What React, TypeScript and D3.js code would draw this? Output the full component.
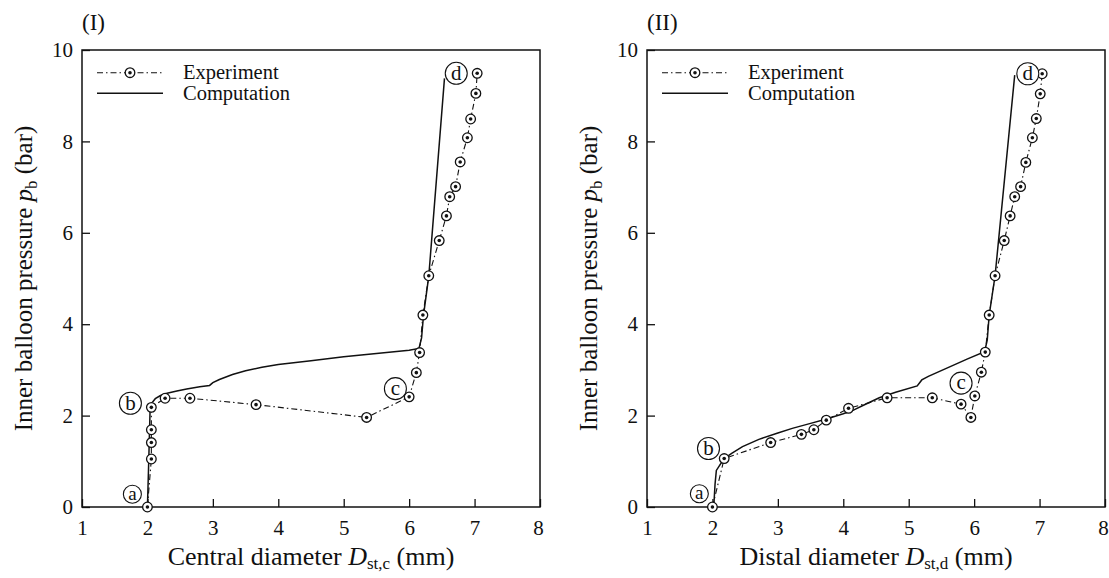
import React, { useRef, useEffect } from 'react';
import * as d3 from 'd3';

// tick values
const xTicks = [1, 2, 3, 4, 5, 6, 7, 8];
const yTicks = [0, 2, 4, 6, 8, 10];

// (I) central diameter, measured
const expCentral: [number, number][] = [
  [2.0, 0], [2.06, 1.05], [2.06, 1.41], [2.06, 1.69], [2.06, 2.18],
  [2.27, 2.38], [2.65, 2.38], [3.66, 2.24], [5.35, 1.96], [6.0, 2.41],
  [6.11, 2.94], [6.16, 3.38], [6.21, 4.2], [6.3, 5.06], [6.46, 5.83],
  [6.57, 6.37], [6.62, 6.79], [6.71, 7.01], [6.78, 7.55], [6.89, 8.08],
  [6.94, 8.49], [7.02, 9.05], [7.04, 9.49],
];
// (I) central diameter, computed
const compCentral: [number, number][] = [
  [2.0, 0], [2.02, 1.0], [2.04, 2.1], [2.07, 2.28], [2.12, 2.37], [2.2, 2.44],
  [2.3, 2.49], [2.45, 2.54], [2.6, 2.58], [2.8, 2.63], [2.95, 2.66],
  [3.0, 2.72], [3.1, 2.79], [3.3, 2.9], [3.5, 2.98], [3.75, 3.06],
  [4.0, 3.12], [4.5, 3.2], [5.0, 3.29], [5.5, 3.36], [6.0, 3.43],
  [6.15, 3.47], [6.19, 3.7], [6.22, 4.2], [6.3, 5.05], [6.54, 9.38],
];
// (II) distal diameter, measured
const expDistal: [number, number][] = [
  [2.0, 0], [2.18, 1.06], [2.89, 1.41], [3.36, 1.59], [3.55, 1.69],
  [3.74, 1.9], [4.08, 2.16], [4.67, 2.39], [5.36, 2.39], [5.8, 2.25],
  [5.95, 1.96], [6.01, 2.43], [6.11, 2.95], [6.17, 3.39], [6.23, 4.2],
  [6.32, 5.06], [6.46, 5.83], [6.55, 6.37], [6.62, 6.79], [6.71, 7.01],
  [6.79, 7.54], [6.89, 8.08], [6.95, 8.5], [7.01, 9.04], [7.04, 9.48],
];
// (II) distal diameter, computed
const compDistal: [number, number][] = [
  [2.02, 0], [2.04, 0.5], [2.06, 0.8], [2.11, 0.91], [2.18, 1.06], [2.3, 1.18],
  [2.46, 1.32], [2.71, 1.48], [3.0, 1.62], [3.22, 1.72], [3.5, 1.83],
  [3.73, 1.92], [4.0, 2.04], [4.14, 2.11], [4.3, 2.22], [4.55, 2.39],
  [4.8, 2.51], [5.13, 2.65], [5.2, 2.78], [5.3, 2.86], [5.6, 3.05],
  [5.9, 3.24], [6.16, 3.4], [6.2, 3.65], [6.23, 4.2], [6.32, 5.06], [6.62, 9.45],
];

// circled state markers a-d
const marksCentral = [
  { id: 'a', x: 1.77, y: 0.28 }, { id: 'b', x: 1.74, y: 2.27 },
  { id: 'c', x: 5.79, y: 2.59 }, { id: 'd', x: 6.72, y: 9.49 },
];
const marksDistal = [
  { id: 'a', x: 1.8, y: 0.29 }, { id: 'b', x: 1.94, y: 1.28 },
  { id: 'c', x: 5.8, y: 2.71 }, { id: 'd', x: 6.82, y: 9.48 },
];

const panels = [
  { tag: '(I)', left: 82, xName: 'Central diameter ', xSub: 'st,c', exp: expCentral, comp: compCentral, marks: marksCentral },
  { tag: '(II)', left: 647, xName: 'Distal diameter ', xSub: 'st,d', exp: expDistal, comp: compDistal, marks: marksDistal },
];

const W = 458;
const H = 457;
const TOP = 50;
const FONT = '"Liberation Serif", "Times New Roman", serif';
const INK = '#111';

function App() {
  const svgRef = useRef<SVGSVGElement>(null);

  useEffect(() => {
    const svg = d3.select(svgRef.current);
    svg.selectAll('*').remove();

    panels.forEach(p => {
      const g = svg.append('g').attr('transform', `translate(${p.left},${TOP})`);
      const x = d3.scaleLinear().domain([1, 8]).range([0, W]);
      const y = d3.scaleLinear().domain([0, 10]).range([H, 0]);

      // axes, ticks pointing inward
      const xAxis = g.append('g').attr('transform', `translate(0,${H})`)
        .call(d3.axisBottom(x).tickValues(xTicks).tickSizeInner(-8).tickSizeOuter(0).tickPadding(13).tickFormat(d3.format('d')));
      const yAxis = g.append('g')
        .call(d3.axisLeft(y).tickValues(yTicks).tickSizeInner(-8).tickSizeOuter(0).tickPadding(9).tickFormat(d3.format('d')));
      [xAxis, yAxis].forEach(a => {
        a.select('.domain').remove();
        a.selectAll('line').attr('stroke', INK).attr('stroke-width', 1.3);
        a.selectAll('text').attr('font-family', FONT).attr('font-size', 21).attr('fill', INK);
      });
      // keep the last x label inside the page
      xAxis.selectAll('text').filter(d => d === 8).attr('dx', -2);

      g.append('rect').attr('width', W).attr('height', H)
        .attr('fill', 'none').attr('stroke', INK).attr('stroke-width', 1.5);

      const line = d3.line<[number, number]>().x(d => x(d[0])).y(d => y(d[1]));

      g.append('path').attr('d', line(p.comp)).attr('fill', 'none')
        .attr('stroke', INK).attr('stroke-width', 1.5);

      g.append('path').attr('d', line(p.exp)).attr('fill', 'none')
        .attr('stroke', INK).attr('stroke-width', 1.1).attr('stroke-dasharray', '6,3,1.5,3');

      const pts = g.append('g').selectAll('g').data(p.exp).join('g')
        .attr('transform', d => `translate(${x(d[0])},${y(d[1])})`);
      pts.append('circle').attr('r', 4.8).attr('fill', '#fff').attr('stroke', INK).attr('stroke-width', 1.3);
      pts.append('circle').attr('r', 1.8).attr('fill', INK);

      // circled letters
      const mk = g.append('g').selectAll('g').data(p.marks).join('g')
        .attr('transform', d => `translate(${x(d.x)},${y(d.y)})`);
      mk.append('circle').attr('r', d => (d.id === 'a' ? 9 : 11))
        .attr('fill', '#fff').attr('stroke', INK).attr('stroke-width', 1.1);
      mk.append('text').text(d => d.id).attr('text-anchor', 'middle').attr('dy', '0.3em')
        .attr('font-family', FONT).attr('font-size', d => (d.id === 'a' ? 19 : 21)).attr('fill', INK);

      // legend
      const lg = g.append('g');
      lg.append('line').attr('x1', 15).attr('x2', 81).attr('y1', 22.7).attr('y2', 22.7)
        .attr('stroke', INK).attr('stroke-width', 1.1).attr('stroke-dasharray', '6,3,1.5,3');
      lg.append('circle').attr('cx', 48).attr('cy', 22.7).attr('r', 4.8)
        .attr('fill', '#fff').attr('stroke', INK).attr('stroke-width', 1.3);
      lg.append('circle').attr('cx', 48).attr('cy', 22.7).attr('r', 1.8).attr('fill', INK);
      lg.append('line').attr('x1', 15).attr('x2', 81).attr('y1', 43.3).attr('y2', 43.3)
        .attr('stroke', INK).attr('stroke-width', 1.5);
      lg.selectAll('text').data(['Experiment', 'Computation']).join('text')
        .attr('x', 101).attr('y', (d, i) => (i === 0 ? 29 : 50))
        .attr('font-family', FONT).attr('font-size', 20.5).attr('fill', INK).text(d => d);

      // panel tag
      g.append('text').attr('x', 0).attr('y', -20).text(p.tag)
        .attr('font-family', FONT).attr('font-size', 23).attr('fill', INK);

      // x title
      const xt = g.append('text').attr('x', W / 2).attr('y', H + 58).attr('text-anchor', 'middle')
        .attr('font-family', FONT).attr('font-size', 26).attr('fill', INK);
      xt.append('tspan').text(p.xName);
      xt.append('tspan').attr('font-style', 'italic').text('D');
      xt.append('tspan').attr('font-size', 17).attr('dy', 4).text(p.xSub);
      xt.append('tspan').attr('dy', -4).text(' (mm)');

      // y title
      const yt = g.append('text').attr('transform', `translate(-50,${H / 2}) rotate(-90)`)
        .attr('text-anchor', 'middle').attr('font-family', FONT).attr('font-size', 25).attr('fill', INK);
      yt.append('tspan').text('Inner balloon pressure ');
      yt.append('tspan').attr('font-style', 'italic').text('p');
      yt.append('tspan').attr('font-size', 17).attr('dy', 5).text('b');
      yt.append('tspan').attr('dy', -5).text(' (bar)');
    });
  }, []);

  return (
    <div style={{ position: 'absolute', left: 0, top: 0 }}>
      <svg ref={svgRef} width={1109} height={578} style={{ display: 'block', background: '#fff' }} />
    </div>
  );
}

export default App;
